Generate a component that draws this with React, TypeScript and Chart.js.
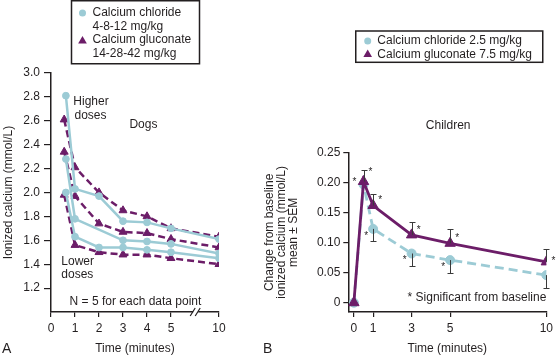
import React, { useEffect, useRef } from "react";
import { Chart, registerables } from "chart.js";

Chart.register(...registerables);

const FONT = '"Liberation Sans", Arial, Helvetica, sans-serif';
const TEXT = "#231f20";
const BLUE = "#9ccbd5";
const PURPLE = "#6c1d68";

// ---------- Panel A: Dogs ----------
const DOG_TICKS = [0, 1, 2, 3, 4, 5, 10];
const DOG_Y_TICKS = [1.2, 1.4, 1.6, 1.8, 2.0, 2.2, 2.4, 2.6, 2.8, 3.0];
const CHLORIDE_TIMES = [0.62, 1, 2, 3, 4, 5, 10];
const GLUCONATE_TIMES = [0.55, 1, 2, 3, 4, 5, 10];
const CHLORIDE_HIGH = [2.81, 2.03, 1.97, 1.76, 1.75, 1.7, 1.61];
const CHLORIDE_MID = [2.28, 1.78, null, 1.6, 1.59, 1.57, 1.49];
const CHLORIDE_LOW = [2.0, 1.63, 1.54, 1.54, 1.52, 1.5, 1.45];
const GLUCONATE_HIGH = [2.61, 2.21, 2.0, 1.85, 1.8, 1.7, 1.63];
const GLUCONATE_MID = [2.34, 1.97, 1.74, 1.67, 1.66, 1.61, 1.54];
const GLUCONATE_LOW = [1.98, 1.56, 1.5, 1.48, 1.48, 1.45, 1.4];

// ---------- Panel B: Children ----------
const CHILD_TIMES = [0, 0.5, 1, 3, 5, 10];
const CHILD_TICKS = [0, 1, 3, 5, 10];
const CHILD_Y_TICKS = [0, 0.05, 0.1, 0.15, 0.2, 0.25];
const CHILD_CHLORIDE = [0, 0.197, 0.123, 0.082, 0.071, 0.046];
const CHILD_CHLORIDE_SEM = [0, 0, 0.02, 0.02, 0.022, 0.022];
const CHILD_CHLORIDE_SIG = [false, true, true, true, true, false];
const CHILD_GLUCONATE = [0, 0.202, 0.162, 0.113, 0.099, 0.068];
const CHILD_GLUCONATE_SEM = [0, 0.02, 0.02, 0.022, 0.024, 0.021];
const CHILD_GLUCONATE_SIG = [false, true, true, true, true, true];

// broken time axis: 10 min is drawn two units after 5 min
const breakPos = (t: number) => (t <= 5 ? t : 5 + (t - 5) * 0.4);

const font = (size = 12) => `${size}px ${FONT}`;

function triangle(ctx: CanvasRenderingContext2D, x: number, y: number, r: number) {
  ctx.beginPath();
  ctx.moveTo(x, y - r);
  ctx.lineTo(x + r * 0.866, y + r * 0.5);
  ctx.lineTo(x - r * 0.866, y + r * 0.5);
  ctx.closePath();
  ctx.fill();
}

function circle(ctx: CanvasRenderingContext2D, x: number, y: number, r: number) {
  ctx.beginPath();
  ctx.arc(x, y, r, 0, Math.PI * 2);
  ctx.fill();
}

const series = (times: number[], vals: (number | null)[]) =>
  vals.map((v, i) => ({ x: breakPos(times[i]), y: v }));

const dogsDecor = {
  id: "dogsDecor",
  afterDraw(chart: any) {
    const { ctx } = chart;
    const x = chart.scales.x;
    const y = chart.scales.y;
    ctx.save();
    // axis break mark
    const bx = x.getPixelForValue(6.05);
    const by = chart.chartArea.bottom;
    ctx.fillStyle = "#fff";
    ctx.fillRect(bx - 3, by - 2, 5, 4);
    ctx.strokeStyle = TEXT;
    ctx.lineWidth = 1.2;
    ctx.beginPath();
    ctx.moveTo(bx - 6, by + 4);
    ctx.lineTo(bx - 1, by - 4);
    ctx.moveTo(bx - 1, by + 4);
    ctx.lineTo(bx + 4, by - 4);
    ctx.stroke();

    // text annotations
    ctx.fillStyle = TEXT;
    ctx.font = font(12);
    ctx.textBaseline = "middle";
    ctx.textAlign = "left";
    ctx.fillText("Higher", x.getPixelForValue(0.93), y.getPixelForValue(2.757));
    ctx.fillText("doses", x.getPixelForValue(0.98), y.getPixelForValue(2.64));
    ctx.fillText("Lower", x.getPixelForValue(0.43), y.getPixelForValue(1.418));
    ctx.fillText("doses", x.getPixelForValue(0.43), y.getPixelForValue(1.31));
    ctx.textAlign = "center";
    ctx.fillText("Dogs", x.getPixelForValue(3.85), y.getPixelForValue(2.565));
    ctx.fillText("N = 5 for each data point", x.getPixelForValue(3.52), y.getPixelForValue(1.09));

    // panel letter
    ctx.textAlign = "left";
    ctx.font = font(14);
    ctx.fillText("A", 2, 349);

    // legend
    ctx.strokeStyle = TEXT;
    ctx.lineWidth = 1.5;
    ctx.strokeRect(71.5, 0.75, 128, 63);
    ctx.font = font(12);
    ctx.fillStyle = BLUE;
    circle(ctx, 82.5, 13, 3.5);
    ctx.fillStyle = PURPLE;
    triangle(ctx, 82.5, 41, 5);
    ctx.fillStyle = TEXT;
    ctx.fillText("Calcium chloride", 92.5, 13);
    ctx.fillText("4-8-12 mg/kg", 92.5, 26.5);
    ctx.fillText("Calcium gluconate", 92.5, 40);
    ctx.fillText("14-28-42 mg/kg", 92.5, 53.5);
    ctx.restore();
  },
};

const childDecor = {
  id: "childDecor",
  afterDatasetsDraw(chart: any) {
    const { ctx } = chart;
    const x = chart.scales.x;
    const y = chart.scales.y;
    ctx.save();
    ctx.strokeStyle = "#3a3a3a";
    ctx.lineWidth = 1;
    const bar = (t: number, v: number, e: number) => {
      if (!e) return;
      const px = Math.round(x.getPixelForValue(t)) + 0.5;
      const p0 = y.getPixelForValue(v);
      const p1 = Math.round(y.getPixelForValue(v + e)) + 0.5;
      ctx.beginPath();
      ctx.moveTo(px, p0);
      ctx.lineTo(px, p1);
      ctx.moveTo(px - 3, p1);
      ctx.lineTo(px + 3, p1);
      ctx.stroke();
    };
    CHILD_TIMES.forEach((t, i) => {
      bar(t, CHILD_GLUCONATE[i], CHILD_GLUCONATE_SEM[i]);
      bar(t, CHILD_CHLORIDE[i], -CHILD_CHLORIDE_SEM[i]);
    });
    // significance asterisks
    ctx.fillStyle = TEXT;
    ctx.font = font(10);
    ctx.textAlign = "center";
    ctx.textBaseline = "middle";
    CHILD_TIMES.forEach((t, i) => {
      const px = x.getPixelForValue(t);
      if (CHILD_GLUCONATE_SIG[i]) {
        const py = y.getPixelForValue(CHILD_GLUCONATE[i]);
        const dy = i === 1 ? -9 : i === CHILD_TIMES.length - 1 ? -1 : -5;
        ctx.fillText("*", px + 7, py + dy);
      }
      if (CHILD_CHLORIDE_SIG[i]) {
        const py = y.getPixelForValue(CHILD_CHLORIDE[i]);
        const dx = i === 1 ? -9 : -7;
        const dy = i === 1 ? -2 : 7;
        ctx.fillText("*", px + dx, py + dy);
      }
    });
    ctx.restore();
  },
  afterDraw(chart: any) {
    const { ctx } = chart;
    const x = chart.scales.x;
    const y = chart.scales.y;
    ctx.save();
    ctx.fillStyle = TEXT;
    ctx.font = font(12);
    ctx.textBaseline = "middle";
    ctx.textAlign = "right";
    ctx.fillText("* Significant from baseline", x.getPixelForValue(10), y.getPixelForValue(0.008));
    ctx.textAlign = "center";
    ctx.fillText("Children", x.getPixelForValue(4.9), y.getPixelForValue(0.295));
    ctx.textAlign = "left";
    ctx.font = font(14);
    ctx.fillText("B", 5, 349);

    // legend
    ctx.strokeStyle = TEXT;
    ctx.lineWidth = 1.5;
    ctx.strokeRect(97.75, 31, 187, 31.3);
    ctx.font = font(12);
    ctx.fillStyle = BLUE;
    circle(ctx, 109.7, 41, 3.5);
    ctx.fillStyle = PURPLE;
    triangle(ctx, 109.7, 54.5, 5);
    ctx.fillStyle = TEXT;
    ctx.fillText("Calcium chloride 2.5 mg/kg", 119.3, 41);
    ctx.fillText("Calcium gluconate 7.5 mg/kg", 119.3, 54.5);
    ctx.restore();
  },
};

const tickFont = { family: FONT, size: 12 };

export default function App() {
  const aRef = useRef<HTMLCanvasElement>(null);
  const bRef = useRef<HTMLCanvasElement>(null);

  useEffect(() => {
    const lineDs = (label: string, times: number[], vals: (number | null)[], gluconate: boolean) => ({
      label,
      data: series(times, vals),
      borderColor: gluconate ? PURPLE : BLUE,
      backgroundColor: gluconate ? PURPLE : BLUE,
      pointBackgroundColor: gluconate ? PURPLE : BLUE,
      pointBorderColor: gluconate ? PURPLE : BLUE,
      borderWidth: 2.5,
      borderDash: gluconate ? [7, 4] : [],
      pointStyle: gluconate ? "triangle" : "circle",
      pointRadius: gluconate ? 4.6 : 3.4,
      pointBorderWidth: 1,
      tension: 0,
      spanGaps: true,
      fill: false,
    });

    const chartA = new Chart(aRef.current!, {
      type: "line",
      data: {
        datasets: [
          lineDs("Calcium chloride high", CHLORIDE_TIMES, CHLORIDE_HIGH, false),
          lineDs("Calcium chloride mid", CHLORIDE_TIMES, CHLORIDE_MID, false),
          lineDs("Calcium chloride low", CHLORIDE_TIMES, CHLORIDE_LOW, false),
          lineDs("Calcium gluconate high", GLUCONATE_TIMES, GLUCONATE_HIGH, true),
          lineDs("Calcium gluconate mid", GLUCONATE_TIMES, GLUCONATE_MID, true),
          lineDs("Calcium gluconate low", GLUCONATE_TIMES, GLUCONATE_LOW, true),
        ],
      },
      options: {
        responsive: false,
        animation: false,
        devicePixelRatio: 1,
        events: [],
        layout: { padding: { left: 0, right: 39, top: 73, bottom: 0 } },
        plugins: { legend: { display: false }, tooltip: { enabled: false } },
        scales: {
          x: {
            type: "linear",
            min: 0,
            max: 7,
            afterBuildTicks: (s: any) => {
              s.ticks = DOG_TICKS.map((t) => ({ value: breakPos(t) }));
            },
            afterFit: (s: any) => {
              s.height = 46;
            },
            ticks: {
              autoSkip: false,
              maxRotation: 0,
              padding: 4,
              color: TEXT,
              font: tickFont,
              callback: (_v: any, i: number) => String(DOG_TICKS[i]),
            },
            grid: { drawOnChartArea: false, tickLength: 5, color: TEXT, lineWidth: 1.2 },
            border: { color: TEXT, width: 1.5 },
            title: {
              display: true,
              text: "Time (minutes)",
              color: TEXT,
              font: tickFont,
              padding: { top: 0, bottom: 2 },
            },
          },
          y: {
            type: "linear",
            min: 1.0,
            max: 3.0,
            afterBuildTicks: (s: any) => {
              s.ticks = DOG_Y_TICKS.map((v) => ({ value: v }));
            },
            afterFit: (s: any) => {
              s.width = 51;
            },
            ticks: {
              padding: 4,
              color: TEXT,
              font: tickFont,
              callback: (v: any) => Number(v).toFixed(1),
            },
            grid: { drawOnChartArea: false, tickLength: 7, color: TEXT, lineWidth: 1.2 },
            border: { color: TEXT, width: 1.5 },
            title: {
              display: true,
              text: "Ionized calcium (mmol/L)",
              color: TEXT,
              font: tickFont,
              padding: { top: 1, bottom: 0 },
            },
          },
        },
      },
      plugins: [dogsDecor],
    } as any);

    const childSeries = (vals: number[]) => vals.map((v, i) => ({ x: CHILD_TIMES[i], y: v }));

    const chartB = new Chart(bRef.current!, {
      type: "line",
      data: {
        datasets: [
          {
            label: "Calcium gluconate 7.5 mg/kg",
            data: childSeries(CHILD_GLUCONATE),
            borderColor: PURPLE,
            backgroundColor: PURPLE,
            pointBackgroundColor: PURPLE,
            pointBorderColor: PURPLE,
            borderWidth: 2.8,
            pointStyle: "triangle",
            pointRadius: 6,
            pointBorderWidth: 1,
            tension: 0,
          },
          {
            label: "Calcium chloride 2.5 mg/kg",
            data: childSeries(CHILD_CHLORIDE),
            borderColor: BLUE,
            backgroundColor: BLUE,
            pointBackgroundColor: BLUE,
            pointBorderColor: BLUE,
            borderWidth: 2.8,
            borderDash: [9, 5],
            pointStyle: "circle",
            pointRadius: 4.5,
            pointBorderWidth: 1,
            tension: 0,
          },
        ],
      },
      options: {
        responsive: false,
        animation: false,
        devicePixelRatio: 1,
        events: [],
        layout: { padding: { left: 0, right: 8.3, top: 152.7, bottom: 0 } },
        plugins: { legend: { display: false }, tooltip: { enabled: false } },
        scales: {
          x: {
            type: "linear",
            min: -0.29,
            max: 10,
            afterBuildTicks: (s: any) => {
              s.ticks = CHILD_TICKS.map((t) => ({ value: t }));
            },
            afterFit: (s: any) => {
              s.height = 46;
            },
            ticks: {
              autoSkip: false,
              maxRotation: 0,
              padding: 4,
              color: TEXT,
              font: tickFont,
              callback: (_v: any, i: number) => String(CHILD_TICKS[i]),
            },
            grid: { drawOnChartArea: false, tickLength: 5, color: TEXT, lineWidth: 1.2 },
            border: { color: TEXT, width: 1.5 },
            title: {
              display: true,
              text: "Time (minutes)",
              color: TEXT,
              font: tickFont,
              padding: { top: 0, bottom: 2 },
            },
          },
          y: {
            type: "linear",
            min: -0.0155,
            max: 0.25,
            afterBuildTicks: (s: any) => {
              s.ticks = CHILD_Y_TICKS.map((v) => ({ value: v }));
            },
            afterFit: (s: any) => {
              s.width = 90.3;
            },
            ticks: {
              padding: 3,
              color: TEXT,
              font: tickFont,
              callback: (v: any) => (Number(v) === 0 ? "0" : Number(v).toFixed(2)),
            },
            grid: { drawOnChartArea: false, tickLength: 5, color: TEXT, lineWidth: 1.2 },
            border: { color: TEXT, width: 1.5 },
            title: {
              display: true,
              text: ["Change from baseline", "ionized calcium (mmol/L)", "mean \u00b1 SEM"],
              color: TEXT,
              font: { family: FONT, size: 12, lineHeight: 1.0 },
              padding: { top: 6, bottom: 0 },
            },
          },
        },
      },
      plugins: [childDecor],
    } as any);

    return () => {
      chartA.destroy();
      chartB.destroy();
    };
  }, []);

  return (
    <div
      style={{
        position: "absolute",
        left: 0,
        top: 0,
        width: 557,
        height: 358,
        background: "#fff",
        overflow: "hidden",
      }}
    >
      <canvas
        ref={aRef}
        width={258}
        height={358}
        style={{ position: "absolute", left: 0, top: 0, width: 258, height: 358 }}
      />
      <canvas
        ref={bRef}
        width={299}
        height={358}
        style={{ position: "absolute", left: 258, top: 0, width: 299, height: 358 }}
      />
    </div>
  );
}
